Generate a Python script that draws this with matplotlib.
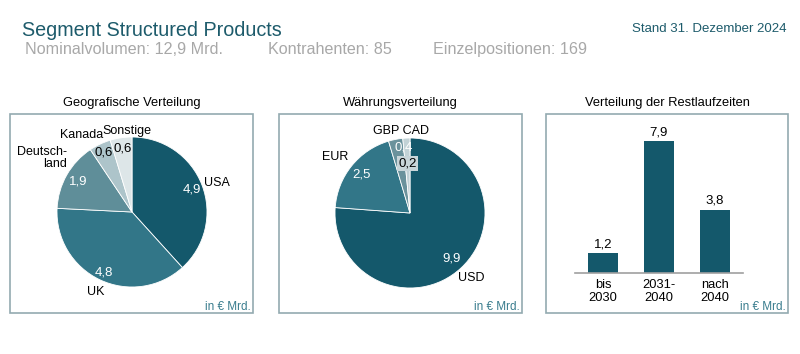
import matplotlib
matplotlib.use('Agg')
import matplotlib.pyplot as plt
from matplotlib.patches import Rectangle
import numpy as np

plt.rcParams['font.family'] = ['Liberation Sans', 'DejaVu Sans']

# data
geo_labels = ['USA', 'UK', 'Deutsch-\nland', 'Kanada', 'Sonstige']
geo_values = [4.9, 4.8, 1.9, 0.6, 0.6]
geo_colors = ['#14586b', '#327688', '#5f8e99', '#adc4ca', '#dde6e8']

cur_labels = ['USD', 'EUR', 'GBP', 'CAD']
cur_values = [9.9, 2.5, 0.4, 0.2]
cur_colors = ['#14586b', '#327688', '#6a929c', '#c2d2d6']

mat_labels = ['bis\n2030', '2031-\n2040', 'nach\n2040']
mat_values = [1.2, 7.9, 3.8]

W, H = 800, 354
teal = '#1d5b6b'
unit_col = '#3a7d8e'
border = '#93aab0'

fig = plt.figure(figsize=(W / 100, H / 100), dpi=100)
fig.patch.set_facecolor('white')


def fx(x):
    return x / W


def fy(y):
    return 1 - y / H


def de(v):
    return f'{v:.1f}'.replace('.', ',')


# header
fig.text(fx(22), fy(36.5), 'Segment Structured Products', fontsize=14.2, color=teal, va='baseline')
fig.text(fx(787), fy(32.5), 'Stand 31. Dezember 2024', fontsize=9.5, color=teal, va='baseline', ha='right')
gray = '#a8a8a8'
fig.text(fx(25), fy(54), 'Nominalvolumen: 12,9 Mrd.', fontsize=11.6, color=gray, va='baseline')
fig.text(fx(268), fy(54), 'Kontrahenten: 85', fontsize=11.6, color=gray, va='baseline')
fig.text(fx(433), fy(54), 'Einzelpositionen: 169', fontsize=11.6, color=gray, va='baseline')

# panel boxes and titles
panels = [(10, 253, 'Geografische Verteilung'),
          (279, 522, 'Währungsverteilung'),
          (546, 788, 'Verteilung der Restlaufzeiten')]
for x0, x1, title in panels:
    fig.add_artist(Rectangle((fx(x0), fy(313)), fx(x1 - x0), (313 - 114) / H,
                             transform=fig.transFigure, fill=False,
                             edgecolor=border, linewidth=1.2))
    fig.text(fx((x0 + x1) / 2), fy(103), title, fontsize=9.3, ha='center', va='center')
    fig.text(fx(x1 - 2), fy(307), 'in € Mrd.', fontsize=8.5, color=unit_col,
             ha='right', va='center')


def pie_axes(cx, cy, r):
    ax = fig.add_axes([fx(cx - r), fy(cy + r), 2 * r / W, 2 * r / H])
    ax.axis('off')
    return ax


def place(ax, total, values, idx, dist, text, **kw):
    # text on the bisector of wedge idx
    a0 = sum(values[:idx]) / total * 360
    a1 = a0 + values[idx] / total * 360
    mid = np.deg2rad((a0 + a1) / 2)
    ax.text(dist * np.sin(mid), dist * np.cos(mid), text, ha='center', va='center', **kw)


# geographic pie
ax1 = pie_axes(132, 212, 75)
ax1.pie(geo_values, colors=geo_colors, startangle=90, counterclock=False, radius=1,
        wedgeprops=dict(edgecolor='white', linewidth=0.6))
ax1.set_xlim(-1, 1)
ax1.set_ylim(-1, 1)
tot = sum(geo_values)
val_col = ['white', 'white', 'white', 'black', 'black']
val_r = [0.85, 0.89, 0.83, 0.88, 0.85]
for i, v in enumerate(geo_values):
    place(ax1, tot, geo_values, i, val_r[i], de(v), fontsize=9.5, color=val_col[i])
# category names, placed by hand like the original
name_pos = [(1.13, 0.39, 'center'), (-0.49, -1.07, 'center'), (-0.87, 0.72, 'right'),
            (-0.67, 1.03, 'center'), (-0.07, 1.08, 'center')]
for (px, py, ha), name in zip(name_pos, geo_labels):
    ax1.text(px, py, name, fontsize=9, ha=ha, va='center', linespacing=1.0)

# currency pie
ax2 = pie_axes(410, 213, 75)
ax2.pie(cur_values, colors=cur_colors, startangle=90, counterclock=False, radius=1,
        wedgeprops=dict(edgecolor='white', linewidth=0.6))
ax2.set_xlim(-1, 1)
ax2.set_ylim(-1, 1)
tot = sum(cur_values)
place(ax2, tot, cur_values, 0, 0.82, de(cur_values[0]), fontsize=9.5, color='white')
place(ax2, tot, cur_values, 0, 1.19, cur_labels[0], fontsize=9)
place(ax2, tot, cur_values, 1, 0.83, de(cur_values[1]), fontsize=9.5, color='white')
ax2.text(-1.0, 0.75, cur_labels[1], fontsize=9, ha='center', va='center')
ax2.text(-0.08, 0.87, de(cur_values[2]), fontsize=9.5, color='white', ha='center', va='center')
ax2.text(-0.03, 0.66, de(cur_values[3]), fontsize=9.5, color='black', ha='center', va='center',
         bbox=dict(boxstyle='square,pad=0.1', facecolor='#c8d5d9', edgecolor='none'))
ax2.text(-0.12, 1.09, cur_labels[2] + ' ' + cur_labels[3], fontsize=9, ha='center', va='center')

# maturity bars
ppu = 16.7
ax3 = fig.add_axes([fx(575), fy(273), 168 / W, 9 * ppu / H])
x = np.arange(len(mat_values))
ax3.bar(x, mat_values, width=0.54, color='#14586b')
ax3.set_xlim(-0.5, 2.5)
ax3.set_ylim(0, 9)
for s in ['top', 'right', 'left']:
    ax3.spines[s].set_visible(False)
ax3.spines['bottom'].set_color('#a0a0a0')
ax3.spines['bottom'].set_linewidth(1.2)
ax3.set_yticks([])
ax3.set_xticks(x)
ax3.set_xticklabels(mat_labels, fontsize=9.3, linespacing=1.15)
ax3.tick_params(axis='x', length=0, pad=4)
ax3.patch.set_alpha(0)
for xi, v in zip(x, mat_values):
    ax3.annotate(de(v), (xi, v), xytext=(0, 2), textcoords='offset points',
                 ha='center', va='bottom', fontsize=9.5)

fig.savefig('out.png', dpi=100)
